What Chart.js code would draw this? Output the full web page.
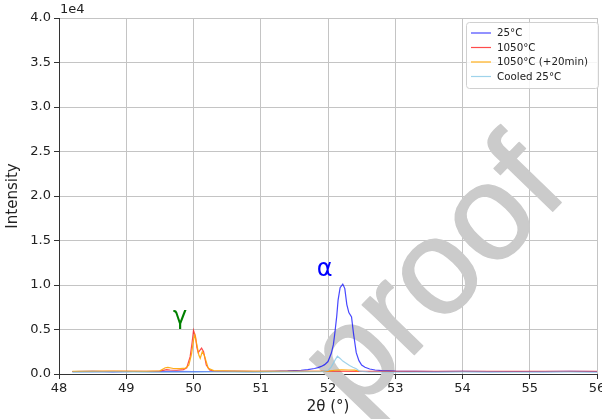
<!DOCTYPE html>
<html>
<head>
<meta charset="utf-8">
<script src="https://cdn.jsdelivr.net/npm/chart.js@4"></script>
<style>
  html, body { margin: 0; padding: 0; background: #fff; }
  #wrap { width: 602px; height: 419px; }
</style>
</head>
<body>
<div id="wrap"><canvas id="xrdChart"></canvas></div>
<script>
// 2theta positions and intensities
const roomX = [48.2, 48.5, 48.8, 49.1, 49.4, 49.7, 50.0, 50.3, 50.6, 50.9, 51.2, 51.4, 51.6, 51.7, 51.8, 51.85, 51.9, 51.95, 52.0, 52.05, 52.08, 52.1, 52.13, 52.15, 52.18, 52.22, 52.25, 52.28, 52.31, 52.35, 52.38, 52.42, 52.46, 52.5, 52.55, 52.62, 52.7, 52.8, 53.0, 53.3, 53.6, 54.0, 54.4, 54.8, 55.2, 55.6, 56.0];
const roomY = [260, 290, 250, 280, 270, 300, 260, 280, 290, 270, 300, 340, 420, 500, 620, 720, 850, 1050, 1400, 2350, 3300, 4500, 6500, 8300, 9700, 10100, 9600, 7800, 6900, 6400, 4500, 2400, 1500, 1000, 750, 560, 450, 380, 320, 290, 270, 290, 260, 280, 270, 290, 270];

const hotX = [48.2, 48.8, 49.3, 49.5, 49.6, 49.65, 49.75, 49.85, 49.9, 49.95, 49.98, 50.0, 50.03, 50.05, 50.07, 50.1, 50.12, 50.15, 50.19, 50.24, 50.3, 50.6, 51.0, 51.5, 52.0, 52.5, 53.0, 54.0, 55.0, 56.0];
const hotY = [280, 300, 290, 330, 480, 450, 420, 500, 700, 1950, 3600, 4900, 4200, 3000, 2400, 2700, 2900, 2500, 1000, 450, 330, 290, 300, 290, 310, 290, 300, 290, 300, 290];

const hot20X = [48.2, 48.8, 49.3, 49.5, 49.58, 49.62, 49.7, 49.8, 49.88, 49.93, 49.97, 50.0, 50.02, 50.05, 50.08, 50.1, 50.13, 50.16, 50.22, 50.3, 50.6, 51.0, 51.5, 52.0, 52.1, 52.2, 52.3, 52.4, 52.45];
const hot20Y = [300, 320, 300, 350, 700, 750, 620, 600, 650, 1000, 2200, 3800, 4400, 3300, 2100, 1760, 2500, 2100, 640, 380, 320, 300, 310, 330, 420, 460, 450, 440, 320];

const cooledX = [48.2, 48.8, 49.5, 50.2, 50.8, 51.5, 51.9, 52.0, 52.05, 52.1, 52.14, 52.18, 52.22, 52.27, 52.32, 52.37, 52.42, 52.47, 52.6, 53.2, 54.0, 54.8, 55.5, 56.0];
const cooledY = [200, 230, 210, 240, 220, 230, 250, 400, 800, 1500, 2000, 1750, 1450, 1200, 950, 750, 600, 320, 230, 220, 240, 220, 230, 220];

const seriesLabels = ['25°C', '1050°C', '1050°C (+20min)', 'Cooled 25°C'];
const seriesColors = ['rgba(0,0,255,0.72)', 'rgba(255,0,0,0.7)', 'rgba(255,165,0,0.9)', 'rgba(135,200,230,0.8)'];

// phase labels: [text, 2theta, intensity, colour]
const phaseNotes = [['γ', 49.8, 6300, '#008000'], ['α', 51.95, 11700, '#0000ff']];

function toPoints(xs, ys) {
    return xs.map((x, i) => ({ x: x, y: ys[i] }));
}

const allX = [roomX, hotX, hot20X, cooledX];
const allY = [roomY, hotY, hot20Y, cooledY];

const datasets = seriesLabels.map((label, i) => ({
    label: label,
    data: toPoints(allX[i], allY[i]),
    borderColor: seriesColors[i],
    backgroundColor: seriesColors[i],
    borderWidth: 1.2,
    pointRadius: 0,
    tension: 0,
    order: 4 - i
}));

const FONT = "'DejaVu Sans', sans-serif";

// watermark, drawn under the curves
const watermark = {
    id: 'watermark',
    beforeDatasetsDraw(chart) {
        const ctx = chart.ctx;
        ctx.save();
        ctx.translate(436, 278);
        ctx.rotate(-46 * Math.PI / 180);
        ctx.fillStyle = '#cbcbcb';
        ctx.strokeStyle = '#cbcbcb';
        ctx.lineWidth = 1.5;
        ctx.lineJoin = 'round';
        ctx.font = "136px 'Liberation Sans', Arial, sans-serif";
        ctx.textAlign = 'center';
        ctx.textBaseline = 'middle';
        ctx.fillText('proof', 0, 0);
        ctx.strokeText('proof', 0, 0);
        ctx.restore();
    }
};

const extras = {
    id: 'extras',
    afterDraw(chart) {
        const ctx = chart.ctx;
        const xs = chart.scales.x, ys = chart.scales.y;
        const area = chart.chartArea;
        ctx.save();

        // offset text above the y axis
        ctx.fillStyle = '#222';
        ctx.font = '13px ' + FONT;
        ctx.textAlign = 'left';
        ctx.textBaseline = 'bottom';
        ctx.fillText('1e4', area.left + 1, area.top - 2);

        // phase labels
        ctx.textAlign = 'center';
        ctx.textBaseline = 'middle';
        ctx.font = '24px ' + FONT;
        phaseNotes.forEach(n => {
            ctx.fillStyle = n[3];
            ctx.fillText(n[0], xs.getPixelForValue(n[1]), ys.getPixelForValue(n[2]));
        });

        // legend box in the upper right corner
        const bx = 466, by = 22, bw = 132, bh = 66;
        ctx.fillStyle = 'rgba(255,255,255,0.85)';
        ctx.strokeStyle = '#d0d0d0';
        ctx.lineWidth = 1;
        ctx.beginPath();
        ctx.roundRect(bx + 0.5, by + 0.5, bw, bh, 3);
        ctx.fill();
        ctx.stroke();
        ctx.font = '10.3px ' + FONT;
        ctx.textAlign = 'left';
        seriesLabels.forEach((label, i) => {
            const y = by + 11 + i * 14.5;
            ctx.strokeStyle = seriesColors[i];
            ctx.lineWidth = 1.2;
            ctx.beginPath();
            ctx.moveTo(bx + 5, y);
            ctx.lineTo(bx + 25, y);
            ctx.stroke();
            ctx.fillStyle = '#222';
            ctx.fillText(label, bx + 31, y + 0.5);
        });
        ctx.restore();
    }
};

new Chart(document.getElementById('xrdChart'), {
    type: 'line',
    data: { datasets: datasets },
    options: {
        responsive: true,
        maintainAspectRatio: false,
        animation: false,
        layout: { padding: { top: 18, right: 5, left: 0, bottom: 0 } },
        plugins: {
            legend: { display: false },
            tooltip: { enabled: false }
        },
        scales: {
            x: {
                type: 'linear',
                min: 48,
                max: 56,
                afterFit: s => { s.height = 45; s.paddingLeft = 0; s.paddingRight = 0; },
                ticks: { stepSize: 1, color: '#222', font: { size: 13, family: FONT }, padding: 2, maxRotation: 0 },
                grid: { color: '#c4c4c4', tickColor: '#333', tickLength: 5, lineWidth: 1 },
                border: { color: '#333', width: 1 },
                title: { display: true, text: '2θ (°)', color: '#222', font: { size: 15, family: FONT }, padding: { top: 0, bottom: 3 } }
            },
            y: {
                min: 0,
                max: 40000,
                afterFit: s => { s.width = 59; },
                ticks: {
                    stepSize: 5000,
                    color: '#222',
                    font: { size: 13, family: FONT },
                    padding: 3,
                    callback: v => (v / 1e4).toFixed(1)
                },
                grid: { color: '#c4c4c4', tickColor: '#333', tickLength: 5, lineWidth: 1 },
                border: { color: '#333', width: 1 },
                title: { display: true, text: 'Intensity', color: '#222', font: { size: 15, family: FONT }, padding: { top: 4, bottom: 0 } }
            }
        }
    },
    plugins: [watermark, extras]
});
</script>
</body>
</html>
